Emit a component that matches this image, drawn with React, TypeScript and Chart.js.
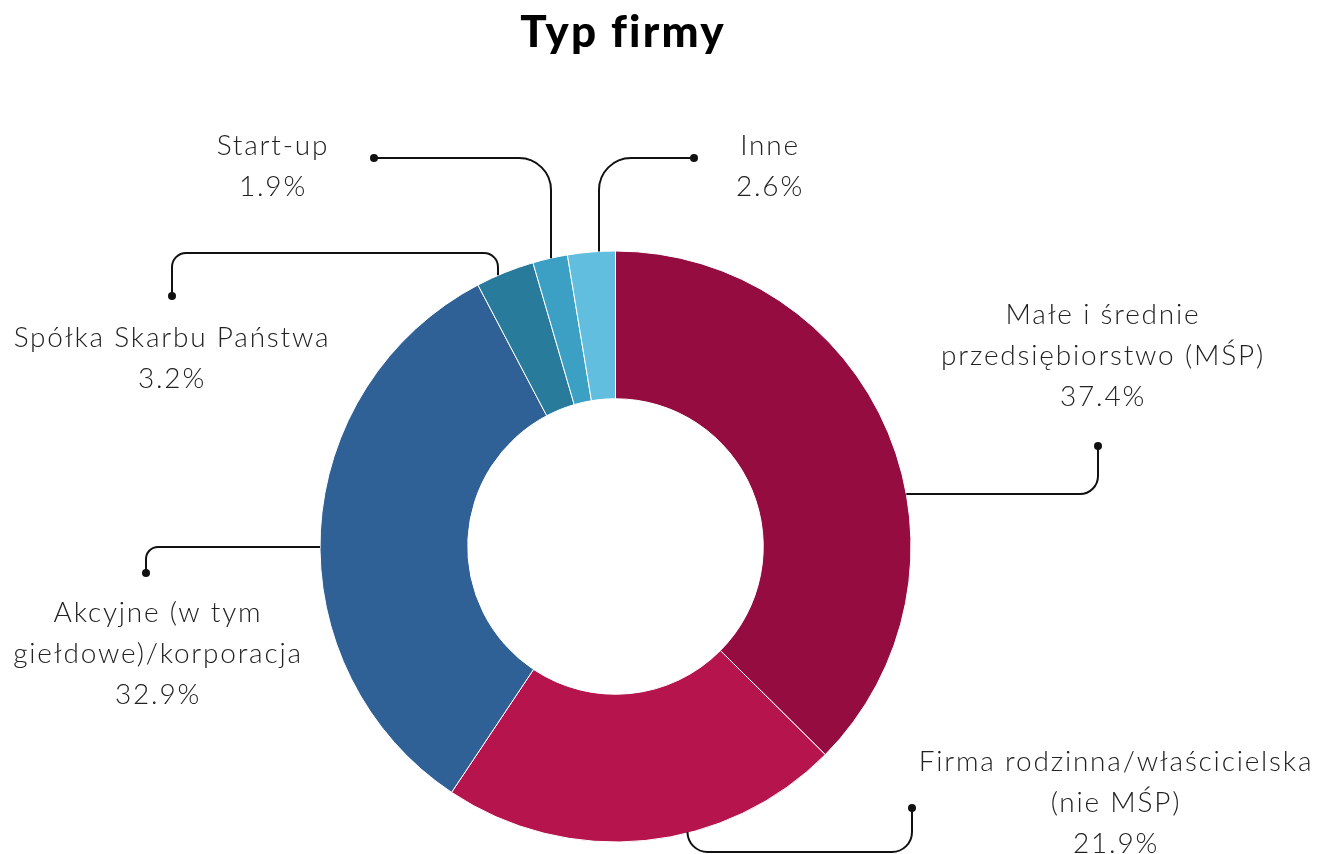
import React, { useEffect, useRef } from "react";
import { Chart, registerables } from "chart.js";

Chart.register(...registerables);

const title = "Typ firmy";
const categories = [
  "Małe i średnie przedsiębiorstwo (MŚP)",
  "Firma rodzinna/właścicielska (nie MŚP)",
  "Akcyjne (w tym giełdowe)/korporacja",
  "Spółka Skarbu Państwa",
  "Start-up",
  "Inne",
];
const labelLines = [
  ["Małe i średnie", "przedsiębiorstwo (MŚP)"],
  ["Firma rodzinna/właścicielska", "(nie MŚP)"],
  ["Akcyjne (w tym", "giełdowe)/korporacja"],
  ["Spółka Skarbu Państwa"],
  ["Start-up"],
  ["Inne"],
];
const values = [37.4, 21.9, 32.9, 3.2, 1.9, 2.6];
const colors = ["#940C40", "#B5144C", "#2F6096", "#287B9A", "#3CA0C4", "#62BEDF"];

// Connector layout (offsets from the doughnut centre, px)
type Conn = {
  axis: "h" | "v";
  off: number;
  side: number;
  pts: [number, number][];
  r: number;
  text: [number, number];
};
const connectors: Conn[] = [
  { axis: "h", off: -52.5, side: 1, pts: [[482.5, -52.5], [482.5, -100.5]], r: 18, text: [487.5, -231.5] },
  { axis: "v", off: 72, side: 1, pts: [[72, 305.5], [296.5, 305.5], [296.5, 261.5]], r: 20, text: [500.5, 215.5] },
  { axis: "h", off: 0.5, side: -1, pts: [[-469.5, 0.5], [-469.5, 26.5]], r: 12, text: [-457.5, 66.5] },
  { axis: "v", off: -117.5, side: -1, pts: [[-117.5, -293.5], [-443.5, -293.5], [-443.5, -250.5]], r: 14, text: [-443.5, -208.5] },
  { axis: "v", off: -64.5, side: -1, pts: [[-64.5, -388.5], [-241.5, -388.5]], r: 32, text: [-342.5, -400.5] },
  { axis: "v", off: -16.5, side: -1, pts: [[-16.5, -388.5], [78.5, -388.5]], r: 32, text: [154.5, -400.5] },
];
const LINE_H = 41;

const labelPlugin = {
  id: "calloutLabels",
  afterDraw(chart: any) {
    const ctx = chart.ctx as CanvasRenderingContext2D;
    const meta = chart.getDatasetMeta(0);
    const arc0 = meta.data[0] as any;
    if (!arc0) return;
    const cx = arc0.x;
    const cy = arc0.y;
    const R = arc0.outerRadius;
    ctx.save();
    // title
    ctx.fillStyle = "#000";
    ctx.font = "900 44px Lato";
    (ctx as any).letterSpacing = "2.2px";
    ctx.textAlign = "center";
    ctx.textBaseline = "middle";
    ctx.fillText(title, 623, 33);

    connectors.forEach((c, i) => {
      let sx: number, sy: number;
      if (c.axis === "h") {
        sy = cy + c.off;
        sx = cx + c.side * Math.sqrt(R * R - c.off * c.off);
      } else {
        sx = cx + c.off;
        sy = cy + c.side * Math.sqrt(R * R - c.off * c.off);
      }
      const pts: [number, number][] = [[sx, sy], ...c.pts.map(([x, y]) => [cx + x, cy + y] as [number, number])];
      ctx.strokeStyle = "#111";
      ctx.lineWidth = 2;
      ctx.beginPath();
      ctx.moveTo(pts[0][0], pts[0][1]);
      for (let k = 1; k < pts.length - 1; k++) {
        ctx.arcTo(pts[k][0], pts[k][1], pts[k + 1][0], pts[k + 1][1], c.r);
      }
      const last = pts[pts.length - 1];
      ctx.lineTo(last[0], last[1]);
      ctx.stroke();
      ctx.fillStyle = "#111";
      ctx.beginPath();
      ctx.arc(last[0], last[1], 4, 0, Math.PI * 2);
      ctx.fill();

      ctx.fillStyle = "#222";
      ctx.font = "300 28px Lato";
      (ctx as any).letterSpacing = "1.8px";
      ctx.textAlign = "center";
      ctx.textBaseline = "middle";
      const lines = [...labelLines[i], values[i].toFixed(1) + "%"];
      lines.forEach((ln, j) => {
        ctx.fillText(ln, cx + c.text[0], cy + c.text[1] + j * LINE_H);
      });
    });
    (ctx as any).letterSpacing = "0px";
    ctx.restore();
  },
};

export default function App() {
  const ref = useRef<HTMLCanvasElement>(null);
  useEffect(() => {
    document.body.style.margin = "0";
    const chart = new Chart(ref.current!, {
      type: "doughnut",
      data: {
        labels: categories,
        datasets: [
          {
            data: values,
            backgroundColor: colors,
            borderColor: "#ffffff",
            borderWidth: 1,
          },
        ],
      },
      options: {
        responsive: false,
        animation: false,
        cutout: "50%",
        layout: { padding: { top: 250.5, bottom: 11.5, left: 100, right: 202 } },
        plugins: {
          legend: { display: false },
          title: { display: false },
          tooltip: { enabled: false },
        },
      },
      plugins: [labelPlugin],
    });
    return () => chart.destroy();
  }, []);
  return (
    <div style={{ position: "absolute", left: 0, top: 0, width: 1333, height: 854, background: "#fff" }}>
      <canvas ref={ref} width={1333} height={854} />
    </div>
  );
}
